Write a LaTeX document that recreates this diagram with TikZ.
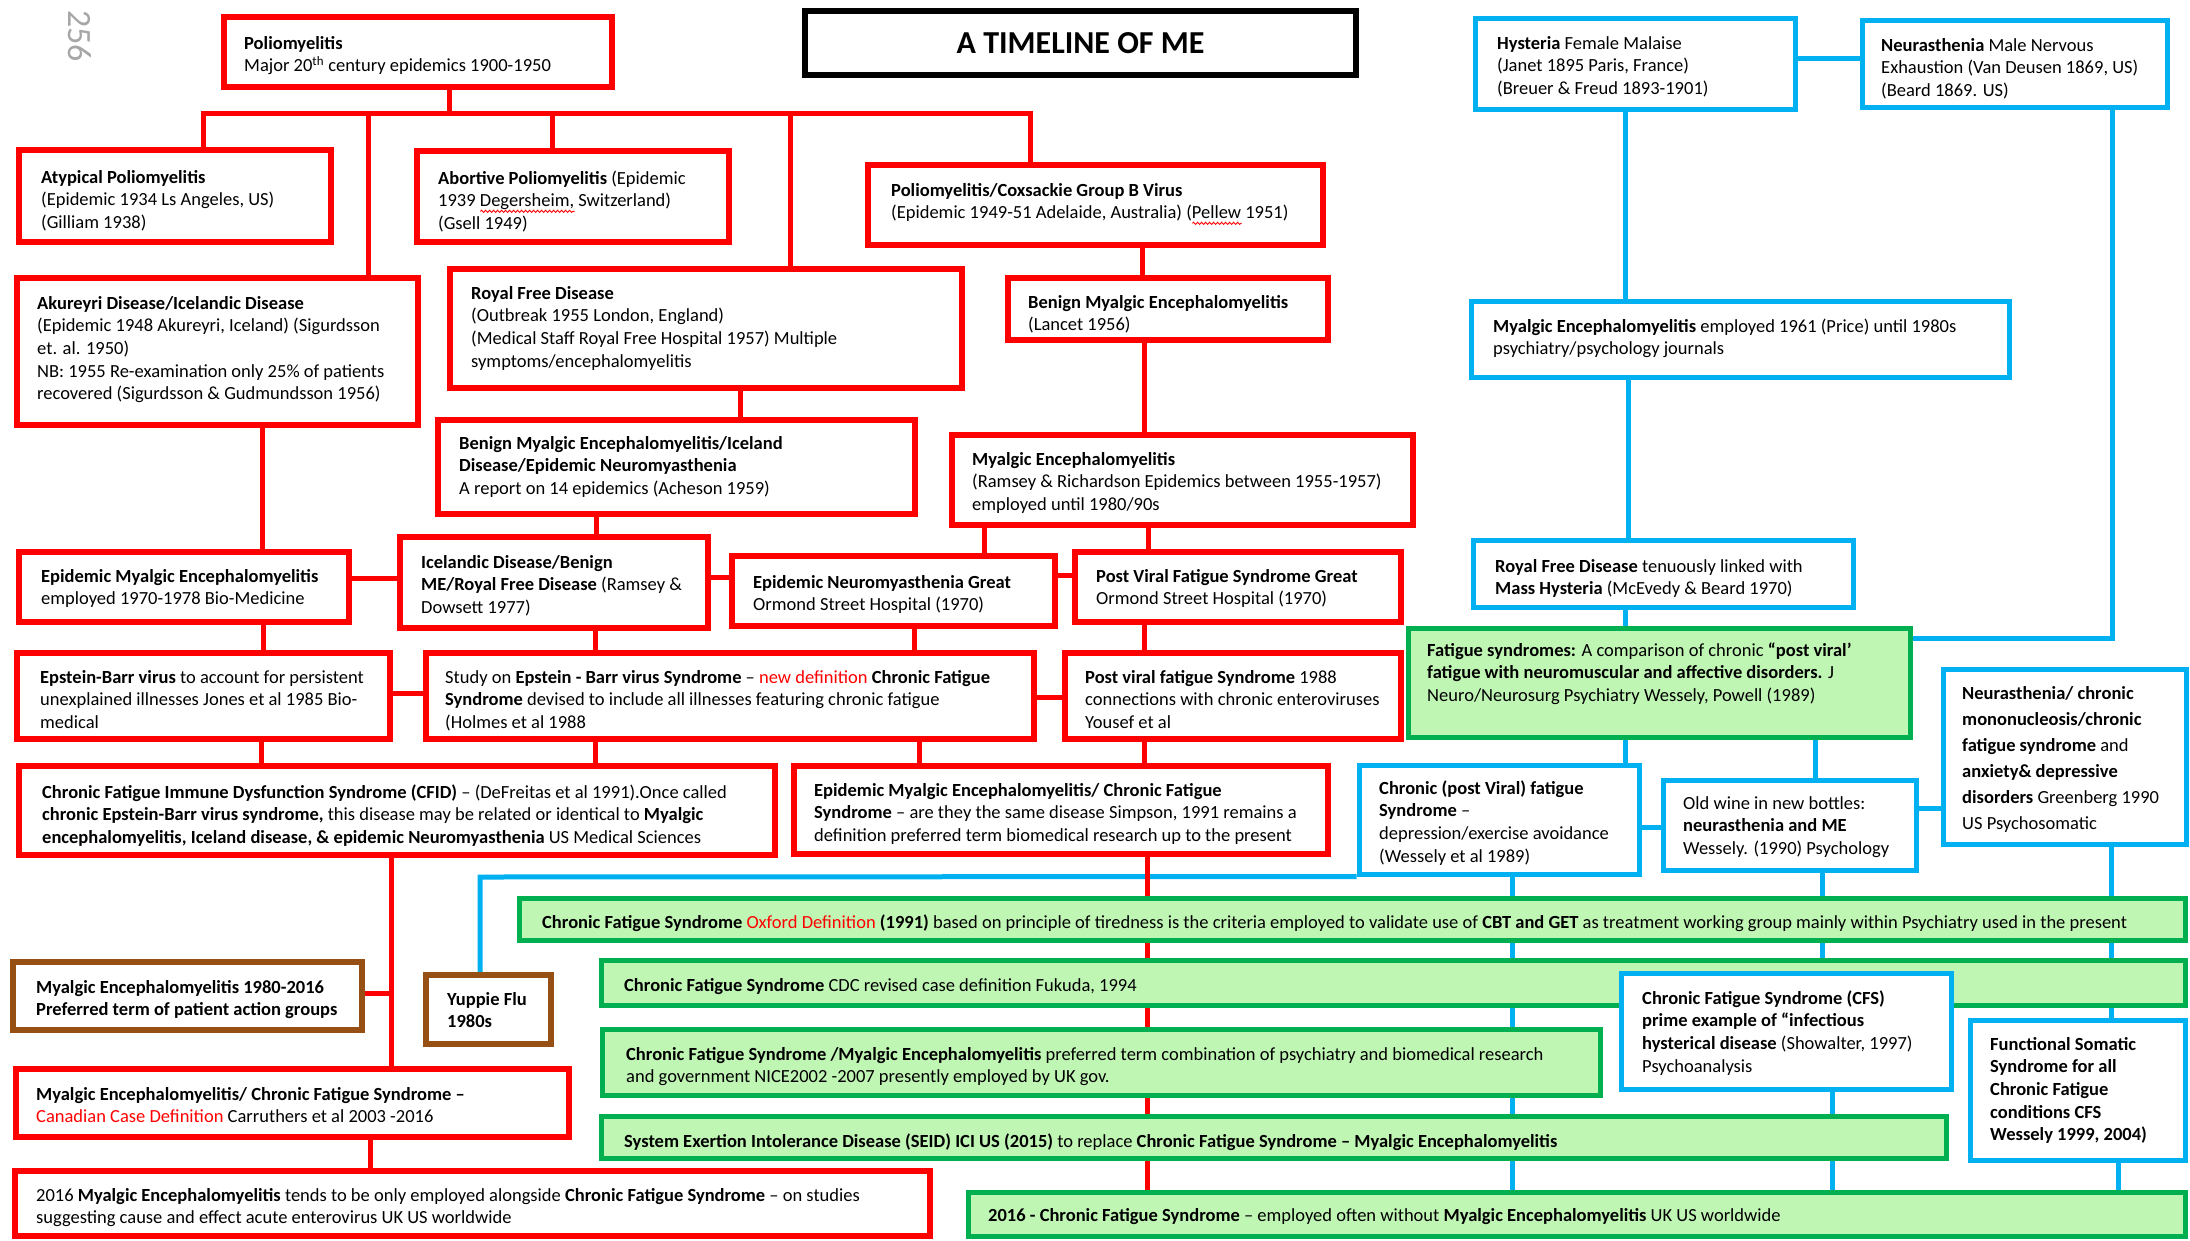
\documentclass[tikz,border=0pt]{standalone}
\usepackage{fontspec}
\setmainfont{Carlito}
\usetikzlibrary{fit,decorations.pathmorphing}

\definecolor{tlred}{RGB}{255,0,0}
\definecolor{tlblue}{RGB}{0,176,240}
\definecolor{tlgreen}{RGB}{0,176,80}
\definecolor{tlgreenfill}{RGB}{192,246,180}
\definecolor{tlbrown}{RGB}{150,80,20}

\pgfdeclarelayer{paper}
\pgfdeclarelayer{back}
\pgfsetlayers{paper,back,main}

% red wavy underline under a word
\newsavebox\spellbox
\newcommand\spellmark[1]{\sbox\spellbox{#1}%
  \rlap{\raisebox{-4.5pt}{\tikz[baseline=0pt]\draw[red, line width=0.9pt, decorate,
    decoration={snake, amplitude=1.1pt, segment length=4pt}] (0pt,0pt) -- (\wd\spellbox,0pt);}}%
  \usebox\spellbox}
\newcommand\hl[1]{\textcolor{red}{#1}}

% framed box from (x1,y1) to (x2,y2) with its text set from (tx, first line centre)
\newcommand\tlbox[9]{%
  \node[#1, fit={(#3,#4) (#5,#6)}] (#2) {};
  \node[txt, anchor=north west] (#2-t) at (#7,#8-9.8) {\strut #9};}
% vertical link at a given x, horizontal link at a given y
\newcommand\vlink[4]{\coordinate (vx) at (#4,0); \draw[#1] (#2.south -| vx) -- (#3.north -| vx);}
\newcommand\hlink[4]{\coordinate (hy) at (0,#4); \draw[#1] (#2.east |- hy) -- (#3.west |- hy);}

\begin{document}
\begin{tikzpicture}[x=1pt,y=-1pt,
  rbox/.style={draw=tlred, line width=5.5pt, fill=white, inner sep=0pt},
  bbox/.style={draw=tlblue, line width=5pt, fill=white, inner sep=0pt},
  gbox/.style={draw=tlgreen, line width=5pt, fill=tlgreenfill, inner sep=0pt},
  nbox/.style={draw=tlbrown, line width=5.5pt, fill=white, inner sep=0pt},
  kbox/.style={draw=black, line width=5.5pt, fill=white, inner sep=0pt},
  txt/.style={inner sep=0pt, align=left, font=\fontsize{18.5}{22.6}\selectfont},
  rln/.style={draw=tlred, line width=5pt},
  bln/.style={draw=tlblue, line width=5pt}]

\useasboundingbox (0,0) rectangle (2190,1240);
\begin{pgfonlayer}{paper}
\fill[white] (0,0) rectangle (2190,1240);
\end{pgfonlayer}

\node[font=\fontsize{34}{40}\selectfont, text=gray!70, rotate=-90, inner sep=0pt] (pageno) at (80,36) {256};

% title
\node[kbox, fit={(805,11) (1356,75)}] (title) {};
\node[font=\fontsize{32}{38}\selectfont\bfseries, inner sep=0pt] (title-t) at (title.center) {A TIMELINE OF ME};

% red boxes
\tlbox{rbox}{polio}{224}{17}{612}{87}{244}{43}{\textbf{Poliomyelitis}\\Major 20\textsuperscript{th} century epidemics 1900-1950}
\tlbox{rbox}{atyp}{19}{150}{331}{242}{41}{177}{\textbf{Atypical Poliomyelitis}\\(Epidemic 1934 Ls Angeles, US)\\(Gilliam 1938)}
\tlbox{rbox}{abort}{417}{151}{729}{242}{438}{178}{\textbf{Abortive Poliomyelitis} (Epidemic\\1939 \spellmark{Degersheim,} Switzerland)\\(Gsell 1949)}
\tlbox{rbox}{akur}{17}{278}{418}{425}{37}{303}{\textbf{Akureyri Disease/Icelandic Disease}\\(Epidemic 1948 Akureyri, Iceland) (Sigurdsson\\et. al. 1950)\\NB: 1955 Re-examination only 25\% of patients\\recovered (Sigurdsson \& Gudmundsson 1956)}
\tlbox{rbox}{royal}{450}{269}{962}{388}{471}{293}{\textbf{Royal Free Disease}\\(Outbreak 1955 London, England)\\(Medical Staff Royal Free Hospital 1957) Multiple\\symptoms/encephalomyelitis}
\tlbox{rbox}{coxs}{868}{165}{1323}{245}{891}{190}{\textbf{Poliomyelitis/Coxsackie Group B Virus}\\(Epidemic 1949-51 Adelaide, Australia) (\spellmark{Pellew} 1951)}
\tlbox{rbox}{benign}{1008}{278}{1328}{340}{1028}{302}{\textbf{Benign Myalgic Encephalomyelitis}\\(Lancet 1956)}
\tlbox{rbox}{acheson}{438}{420}{915}{514}{459}{443}{\textbf{Benign Myalgic Encephalomyelitis/Iceland}\\\textbf{Disease/Epidemic Neuromyasthenia}\\A report on 14 epidemics (Acheson 1959)}
\tlbox{rbox}{ramsey}{952}{435}{1413}{525}{972}{459}{\textbf{Myalgic Encephalomyelitis}\\(Ramsey \& Richardson Epidemics between 1955-1957)\\employed until 1980/90s}
\tlbox{rbox}{epme}{19}{552}{349}{622}{41}{576}{\textbf{Epidemic Myalgic Encephalomyelitis}\\employed 1970-1978 Bio-Medicine}
\tlbox{rbox}{icel}{400}{537}{708}{628}{421}{562}{\textbf{Icelandic Disease/Benign}\\\textbf{ME/Royal Free Disease} (Ramsey \&\\Dowsett 1977)}
\tlbox{rbox}{engos}{732}{556}{1055}{626}{753}{582}{\textbf{Epidemic Neuromyasthenia Great}\\Ormond Street Hospital (1970)}
\tlbox{rbox}{pvgos}{1075}{552}{1401}{622}{1096}{576}{\textbf{Post Viral Fatigue Syndrome Great}\\Ormond Street Hospital (1970)}
\tlbox{rbox}{eb}{17}{653}{390}{739}{40}{677}{\textbf{Epstein-Barr virus} to account for persistent\\unexplained illnesses Jones et al 1985 Bio-\\medical}
\tlbox{rbox}{study}{426}{653}{1034}{739}{445}{677}{Study on \textbf{Epstein - Barr virus Syndrome} -- \hl{new definition} \textbf{Chronic Fatigue}\\\textbf{Syndrome} devised to include all illnesses featuring chronic fatigue\\(Holmes et al 1988}
\tlbox{rbox}{pv88}{1065}{653}{1401}{739}{1085}{677}{\textbf{Post viral fatigue Syndrome} 1988\\connections with chronic enteroviruses\\Yousef et al}
\tlbox{rbox}{cfid}{19}{766}{775}{855}{42}{792}{\textbf{Chronic Fatigue Immune Dysfunction Syndrome (CFID)} -- (DeFreitas et al 1991).Once called\\\textbf{chronic Epstein-Barr virus syndrome,} this disease may be related or identical to \textbf{Myalgic}\\\textbf{encephalomyelitis, Iceland disease, \& epidemic Neuromyasthenia} US Medical Sciences}
\tlbox{rbox}{simpson}{794}{766}{1328}{854}{814}{790}{\textbf{Epidemic Myalgic Encephalomyelitis/ Chronic Fatigue}\\\textbf{Syndrome} -- are they the same disease Simpson, 1991 remains a\\definition preferred term biomedical research up to the present}
\tlbox{nbox}{me8016}{13}{962}{362}{1030}{36}{987}{\textbf{Myalgic Encephalomyelitis 1980-2016}\\\textbf{Preferred term of patient action groups}}
\tlbox{nbox}{yuppie}{426}{975}{551}{1044}{447}{999}{\textbf{Yuppie Flu}\\\textbf{1980s}}
\tlbox{rbox}{canadian}{16}{1069}{569}{1137}{36}{1094}{\textbf{Myalgic Encephalomyelitis/ Chronic Fatigue Syndrome --}\\\hl{Canadian Case Definition} Carruthers et al 2003 -2016}
\tlbox{rbox}{me2016}{15}{1171}{930}{1236}{36}{1195}{2016 \textbf{Myalgic Encephalomyelitis} tends to be only employed alongside \textbf{Chronic Fatigue Syndrome} -- on studies\\suggesting cause and effect acute enterovirus UK US worldwide}

% blue boxes
\tlbox{bbox}{hyst}{1475}{18}{1795}{109}{1497}{43}{\textbf{Hysteria} Female Malaise\\(Janet 1895 Paris, France)\\(Breuer \& Freud 1893-1901)}
\tlbox{bbox}{neur}{1862}{20}{2167}{107}{1881}{45}{\textbf{Neurasthenia} Male Nervous\\Exhaustion (Van Deusen 1869, US)\\(Beard 1869. US)}
\tlbox{bbox}{blueme}{1471}{301}{2009}{377}{1493}{326}{\textbf{Myalgic Encephalomyelitis} employed 1961 (Price) until 1980s\\psychiatry/psychology journals}
\tlbox{bbox}{rfblue}{1473}{540}{1853}{607}{1495}{566}{\textbf{Royal Free Disease} tenuously linked with\\\textbf{Mass Hysteria} (McEvedy \& Beard 1970)}
\tlbox{bbox}{cpv}{1359}{765}{1639}{874}{1379}{788}{\textbf{Chronic (post Viral) fatigue}\\\textbf{Syndrome} --\\depression/exercise avoidance\\(Wessely et al 1989)}
\tlbox{bbox}{oldwine}{1663}{780}{1916}{870}{1683}{803}{Old wine in new bottles:\\\textbf{neurasthenia and ME}\\Wessely. (1990) Psychology}
\tlbox{bbox}{neurchr}{1943}{669}{2186}{844}{1962}{693}{\textbf{Neurasthenia/ chronic}\\[3.4pt]\textbf{mononucleosis/chronic}\\[3.4pt]\textbf{fatigue syndrome} and\\[3.4pt]\textbf{anxiety\& depressive}\\[3.4pt]\textbf{disorders} Greenberg 1990\\[3.4pt]US Psychosomatic}

% green boxes
\tlbox{gbox}{fatigue}{1408}{628}{1910}{737}{1427}{650}{\textbf{Fatigue syndromes:} A comparison of chronic \textbf{``post viral'}\\\textbf{fatigue with neuromuscular and affective disorders.} J\\Neuro/Neurosurg Psychiatry Wessely, Powell (1989)}
\tlbox{gbox}{oxford}{519}{898}{2185}{940}{542}{922}{\textbf{Chronic Fatigue Syndrome} \hl{Oxford Definition} \textbf{(1991)} based on principle of tiredness is the criteria employed to validate use of \textbf{CBT and GET} as treatment working group mainly within Psychiatry used in the present}
\tlbox{gbox}{cdc}{601}{960}{2185}{1005}{624}{985}{\textbf{Chronic Fatigue Syndrome} CDC revised case definition Fukuda, 1994}
\tlbox{gbox}{nice}{602}{1029}{1600}{1095}{626}{1054}{\textbf{Chronic Fatigue Syndrome /Myalgic Encephalomyelitis} preferred term combination of psychiatry and biomedical research\\and government NICE2002 -2007 presently employed by UK gov.}
\tlbox{gbox}{seid}{601}{1116}{1946}{1158}{624}{1141}{\textbf{System Exertion Intolerance Disease (SEID) ICI US (2015)} to replace \textbf{Chronic Fatigue Syndrome -- Myalgic Encephalomyelitis}}
\tlbox{gbox}{cfs16}{968}{1192}{2185}{1236}{988}{1215}{\textbf{2016 - Chronic Fatigue Syndrome} -- employed often without \textbf{Myalgic Encephalomyelitis} UK US worldwide}

% blue boxes lying over the green bands
\tlbox{bbox}{showalter}{1621}{973}{1951}{1089}{1642}{998}{\textbf{Chronic Fatigue Syndrome (CFS)}\\\textbf{prime example of ``infectious}\\\textbf{hysterical disease} (Showalter, 1997)\\Psychoanalysis}
\tlbox{bbox}{funcsom}{1970}{1020}{2185}{1160}{1990}{1044}{\textbf{Functional Somatic}\\\textbf{Syndrome for all}\\\textbf{Chronic Fatigue}\\\textbf{conditions CFS}\\\textbf{Wessely 1999, 2004)}}

% ---------- connectors, kept behind the boxes ----------
\begin{pgfonlayer}{back}
% blue links
\hlink{bln}{hyst}{neur}{58}
\vlink{bln}{hyst}{blueme}{1625}
\vlink{bln}{blueme}{rfblue}{1628}
\vlink{bln}{rfblue}{fatigue}{1625}
\coordinate (nj) at (2112,638);
\draw[bln] (neur.south -| nj) -- (nj) -- (fatigue.east |- nj);
\vlink{bln}{fatigue}{cpv}{1625}
\vlink{bln}{fatigue}{oldwine}{1815}
\hlink{bln}{cpv}{oldwine}{827}
\hlink{bln}{oldwine}{neurchr}{808}
\vlink{bln}{cpv}{cfs16}{1512}
\vlink{bln}{oldwine}{showalter}{1822}
\vlink{bln}{showalter}{cfs16}{1832}
\vlink{bln}{neurchr}{funcsom}{2111}
\vlink{bln}{funcsom}{cfs16}{2118}
\coordinate (yj) at (480,877);
\draw[bln] (yuppie.north -| yj) -- (yj) -- (cpv.south west);

% red tree under Poliomyelitis
\coordinate (busL) at (203,113);
\coordinate (busP) at (449,113);
\coordinate (busK) at (368,113);
\coordinate (busA) at (552,113);
\coordinate (busR) at (790,113);
\coordinate (busC) at (1030,113);
\draw[rln] (polio.south -| busP) -- (busP);
\draw[rln] (atyp.north -| busL) -- (busL) -- (busC) -- (coxs.north -| busC);
\draw[rln] (busK) -- (akur.north -| busK);
\draw[rln] (busA) -- (abort.north -| busA);
\draw[rln] (busR) -- (royal.north -| busR);

\vlink{rln}{coxs}{benign}{1142}
\vlink{rln}{benign}{ramsey}{1144}
\vlink{rln}{royal}{acheson}{740}
\vlink{rln}{acheson}{icel}{596}
\vlink{rln}{akur}{epme}{262}
\vlink{rln}{ramsey}{engos}{984}
\vlink{rln}{ramsey}{pvgos}{1148}
\vlink{rln}{epme}{eb}{263}
\vlink{rln}{icel}{study}{595}
\vlink{rln}{engos}{study}{914}
\vlink{rln}{pvgos}{pv88}{1144}
\vlink{rln}{eb}{cfid}{261}
\vlink{rln}{study}{cfid}{595}
\vlink{rln}{study}{simpson}{919}
\vlink{rln}{pv88}{simpson}{1144}
\vlink{rln}{simpson}{cfs16}{1147}
\vlink{rln}{cfid}{canadian}{391}
\vlink{rln}{canadian}{me2016}{370}
\hlink{rln}{epme}{icel}{578}
\hlink{rln}{icel}{engos}{577}
\hlink{rln}{engos}{pvgos}{575}
\hlink{rln}{eb}{study}{693}
\hlink{rln}{study}{pv88}{697}
\coordinate (mj) at (391,993);
\draw[rln] (me8016.east |- mj) -- (mj);
\end{pgfonlayer}

\end{tikzpicture}
\end{document}
